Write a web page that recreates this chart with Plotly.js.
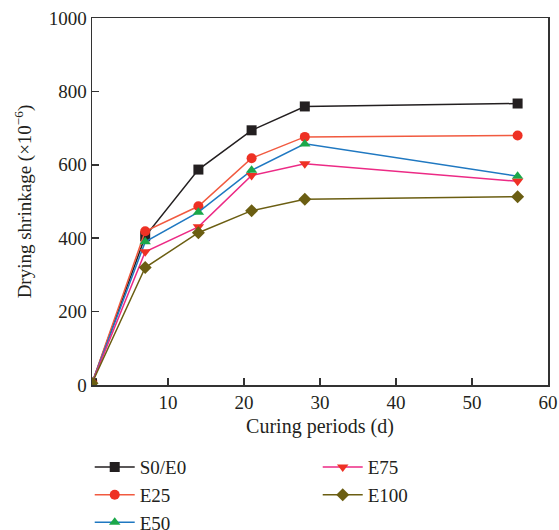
<!DOCTYPE html>
<html><head><meta charset="utf-8">
<script src="https://cdn.plot.ly/plotly-3.0.1.min.js"></script>
<style>html,body{margin:0;padding:0;background:#fff}</style>
</head><body><div id="chart" style="width:559px;height:530px"></div>
<script>
const days = [0, 7, 14, 21, 28, 56];
const seriesNames = ["S0/E0", "E25", "E50", "E75", "E100"];
const s0e0 = [5, 405, 587, 694, 759, 767];
const e25 = [5, 419, 487, 618, 676, 680];
const e50 = [5, 390, 471, 585, 657, 569];
const e75 = [5, 363, 431, 571, 603, 555];
const e100 = [5, 320, 415, 475, 506, 513];
const xTicks = [10, 20, 30, 40, 50, 60];
const yTicks = [0, 200, 400, 600, 800, 1000];

const styles = [
  {line: "#231f20", marker: "#231f20", symbol: "square", legend: "legend"},
  {line: "#f15a40", marker: "#ee3124", symbol: "circle", legend: "legend"},
  {line: "#1f78c1", marker: "#1ba84a", symbol: "triangle-up", legend: "legend"},
  {line: "#ec2a85", marker: "#ee3124", symbol: "triangle-down", legend: "legend2"},
  {line: "#6b5e12", marker: "#6b5e12", symbol: "diamond", legend: "legend2"}
];
const values = [s0e0, e25, e50, e75, e100];

const traces = values.map((v, i) => ({
  x: days, y: v, name: seriesNames[i], type: "scatter", mode: "lines+markers",
  line: {color: styles[i].line, width: 1.5},
  marker: {color: styles[i].marker, symbol: styles[i].symbol, size: 10},
  legend: styles[i].legend
}));

const fam = "Liberation Serif, Times New Roman, serif";
const tickFont = {family: fam, size: 19, color: "#231f20"};
const titleFont = {family: fam, size: 20, color: "#231f20"};
const legFont = {family: fam, size: 19, color: "#231f20"};
const layout = {
  width: 559, height: 530,
  margin: {l: 92, r: 11, t: 18, b: 145, autoexpand: false},
  paper_bgcolor: "#fff", plot_bgcolor: "#fff",
  font: tickFont,
  showlegend: true,
  xaxis: {
    range: [0, 60], tickvals: xTicks, ticks: "inside", ticklen: 7, tickwidth: 1.5, tickcolor: "#333",
    tickfont: tickFont,
    showline: true, linecolor: "#333", linewidth: 1.5, mirror: true, showgrid: false, zeroline: false,
    title: {text: "Curing periods (d)", font: titleFont, standoff: 6}
  },
  yaxis: {
    range: [0, 1000], tickvals: yTicks, ticks: "inside", ticklen: 7, tickwidth: 1.5, tickcolor: "#333",
    tickfont: tickFont,
    showline: true, linecolor: "#333", linewidth: 1.5, mirror: true, showgrid: false, zeroline: false,
    title: {text: "Drying shrinkage (×10<sup>−6</sup>)", font: {family: fam, size: 19, color: "#231f20"}, standoff: 12}
  },
  legend: {x: -0.005, xanchor: "left", y: -0.172, yanchor: "top", orientation: "v", font: legFont, bgcolor: "rgba(0,0,0,0)", tracegroupgap: 0, itemwidth: 40},
  legend2: {x: 0.495, xanchor: "left", y: -0.172, yanchor: "top", orientation: "v", font: legFont, bgcolor: "rgba(0,0,0,0)", tracegroupgap: 0, itemwidth: 40}
};
Plotly.newPlot("chart", traces, layout, {displayModeBar: false, staticPlot: true});
</script></body></html>
